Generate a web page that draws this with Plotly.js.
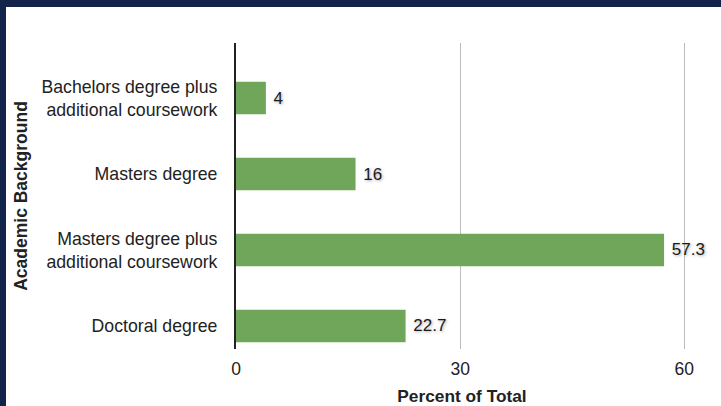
<!DOCTYPE html>
<html>
<head>
<meta charset="utf-8">
<script src="https://cdn.plot.ly/plotly-3.0.1.min.js"></script>
<style>
  html, body { margin: 0; padding: 0; width: 721px; height: 406px; background: #13244a; overflow: hidden; }
  #chart { position: absolute; left: 6px; top: 7px; width: 715px; height: 399px; background: #ffffff; }
</style>
</head>
<body>
<div id="chart"></div>
<script>
// Data (top to bottom as shown)
const categories = [
  "Bachelors degree plus<br>additional coursework",
  "Masters degree",
  "Masters degree plus<br>additional coursework",
  "Doctoral degree"
];
const percentValues = [4, 16, 57.3, 22.7];
const xTickValues = [0, 30, 60];
const xTickLabels = ["0", "30", "60"];

const FONT = "Liberation Sans, Arial, Helvetica, sans-serif";

const trace = {
  type: "bar",
  orientation: "h",
  y: categories,
  x: percentValues,
  marker: { color: "#6fa65a" },
  text: percentValues.map(v => "\u00a0" + String(v)),
  textposition: "outside",
  cliponaxis: false,
  textfont: { family: FONT, size: 17, color: "#1a1a1a", shadow: "1px 1px 3px rgba(0,0,0,0.35)" },
  hoverinfo: "x+y"
};

const layout = {
  width: 715,
  height: 399,
  margin: { l: 230, r: 33, t: 36, b: 57, pad: 0 },
  paper_bgcolor: "#ffffff",
  plot_bgcolor: "#ffffff",
  showlegend: false,
  bargap: 0.57,
  font: { family: FONT, size: 17, color: "#222222" },
  xaxis: {
    range: [0, 60.5],
    tickvals: xTickValues,
    ticktext: xTickLabels,
    showgrid: true,
    gridcolor: "#bcbcbc",
    gridwidth: 1.2,
    zeroline: false,
    showline: false,
    ticks: "",
    ticklabelstandoff: 7,
    tickfont: { family: FONT, size: 17.5, color: "#222222" },
    title: { text: "<b>Percent of Total</b>", font: { family: FONT, size: 17.3, color: "#222222" }, standoff: 17 },
    fixedrange: true
  },
  yaxis: {
    type: "category",
    categoryorder: "array",
    categoryarray: categories,
    range: [3.303, -0.724],
    showgrid: false,
    zeroline: false,
    showline: true,
    linecolor: "#222222",
    linewidth: 2,
    ticks: "",
    ticklabelstandoff: 13,
    tickfont: { family: FONT, size: 17.7, color: "#222222" },
    title: { text: "<b>Academic Background</b>", font: { family: FONT, size: 17.5, color: "#222222" }, standoff: 9 },
    fixedrange: true
  }
};

Plotly.newPlot("chart", [trace], layout, { displayModeBar: false, staticPlot: true });
</script>
</body>
</html>
